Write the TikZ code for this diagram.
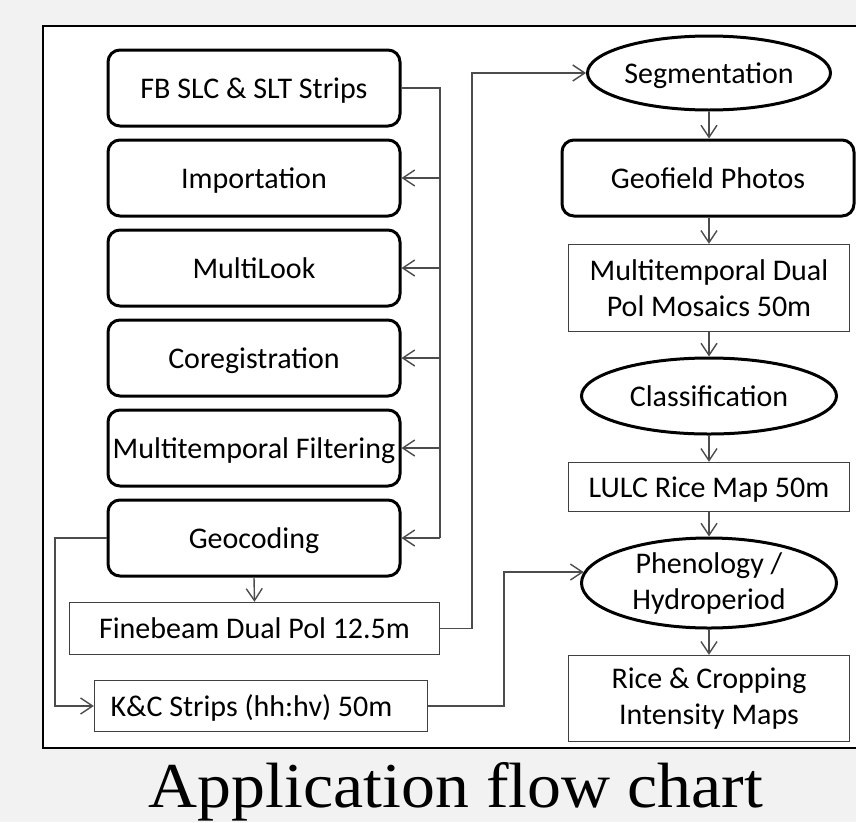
\documentclass[tikz,border=0pt]{standalone}
\usepackage{graphicx}
\usepackage{fontspec}
\setmainfont{Carlito}
\newfontfamily\titlefont{Liberation Serif}
\usetikzlibrary{arrows.meta,shapes.geometric}

\tikzset{
  oneline/.style={text height=27pt, text depth=7pt},
  stage/.style={draw, line width=3pt, rounded corners=12pt, fill=white,
    minimum width=292pt, minimum height=76pt, inner sep=0pt, oneline},
  product/.style={draw=black!75, line width=1.4pt, fill=white, inner sep=0pt,
    align=center},
  process/.style={ellipse, draw, line width=3pt, fill=white, inner sep=0pt,
    align=center, minimum width=255pt},
  wire/.style={draw=black!70, line width=1.4pt},
  link/.style={wire, -{Straight Barb[length=12pt,width=16pt]}}
}

\begin{document}
\begin{tikzpicture}[x=1pt,y=-1pt,font=\fontsize{30}{36}\selectfont]
\fill[gray!10] (0,0) rectangle (856,822);
\clip (0,0) rectangle (856,822);
\draw[fill=white, line width=1.5pt] (43,26) rectangle (870,748);

% left column
\node[stage] (slc) at (254,88) {FB SLC \& SLT Strips};
\node[stage] (imp) at (254,178) {Importation};
\node[stage] (ml) at (254,268) {MultiLook};
\node[stage] (coreg) at (254,358) {Coregistration};
\node[stage] (filt) at (254,448) {Multitemporal Filtering};
\node[stage] (geo) at (254,538) {Geocoding};
\node[product, oneline, minimum width=370pt, minimum height=52pt] (fine) at (254.5,628.5) {Finebeam Dual Pol 12.5m};
\node[product, oneline, minimum width=333pt, minimum height=51pt, inner xsep=16pt,
  text width=301pt, align=flush left] (kc) at (261,706) {K\&C Strips (hh:hv) 50m};

% right column
\node[process, oneline, minimum width=243pt, minimum height=74pt] (seg) at (709,73) {Segmentation};
\node[stage] (photo) at (708,178) {Geofield Photos};
\node[product, minimum width=281pt, minimum height=87pt] (mosaic) at (709,288) {Multitemporal Dual\\Pol Mosaics 50m};
\node[process, oneline, minimum height=76pt] (cls) at (709,396) {Classification};
\node[product, oneline, minimum width=281pt, minimum height=49pt] (lulc) at (709,487) {LULC Rice Map 50m};
\node[process, minimum height=90pt] (phen) at (709,583) {Phenology /\\Hydroperiod};
\node[product, minimum width=281pt, minimum height=86pt] (rice) at (709,698.5) {Rice \& Cropping\\Intensity Maps};

\node[anchor=base, font=\titlefont\fontsize{64}{70}\selectfont] (title) at (456,807) {\scalebox{1.06}[1]{Application flow chart}};

% left bus
\coordinate (bus) at (440,88);
\draw[wire] (slc.east) -- (bus) -- (bus |- geo.east);
\foreach \n in {imp,ml,coreg,filt,geo}
  \draw[link] (bus |- \n.east) -- (\n.east);
\coordinate (gx) at (55,538);
\draw[link] (geo.west) -- (gx) |- (kc.west);
\draw[link] (geo.south) -- (fine.north);
\coordinate (up1) at (472,628.5);
\draw[link] (fine.east) -- (up1) |- (seg.west);
\coordinate (up2) at (504,706);
\draw[link] (kc.east) -- (up2) |- (phen.175);

% right chain
\draw[link] (seg.south) -- (seg.south |- photo.north);
\draw[link] (seg.south |- photo.south) -- (seg.south |- mosaic.north);
\draw[link] (mosaic.south) -- (cls.north);
\draw[link] (cls.south) -- (lulc.north);
\draw[link] (lulc.south) -- (phen.north);
\draw[link] (phen.south) -- (rice.north);
\end{tikzpicture}
\end{document}
